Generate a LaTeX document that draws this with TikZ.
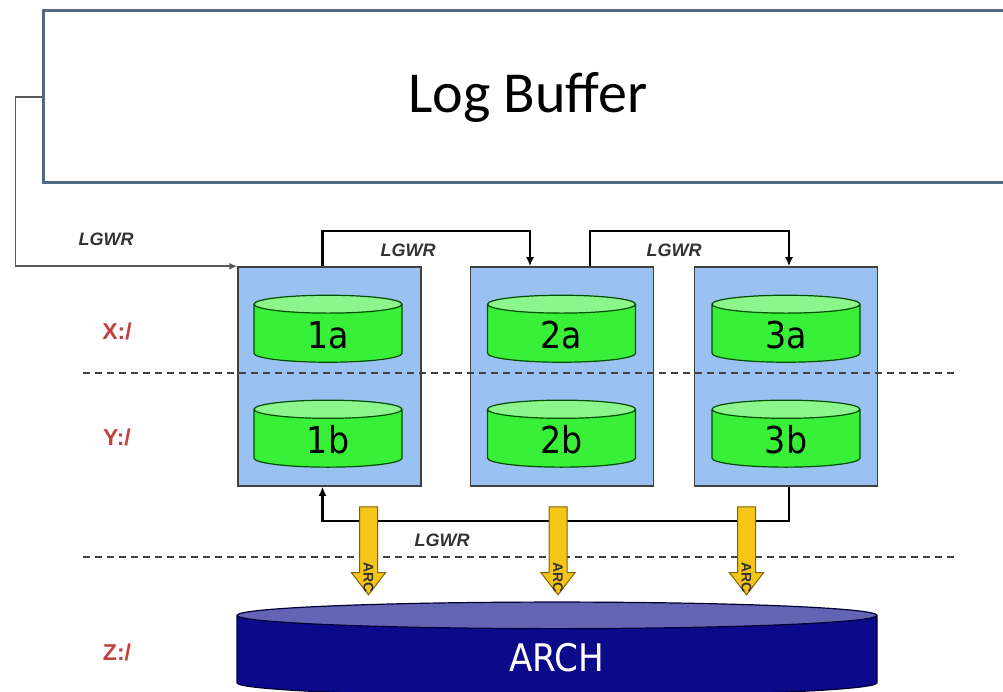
\documentclass[tikz,border=0pt]{standalone}
\usepackage{fontspec}
\setmainfont{Liberation Sans}
\newfontfamily\calibri{Carlito}
\newfontfamily\tahoma{DejaVu Sans Condensed}
\usetikzlibrary{shapes.geometric,shapes.arrows,arrows.meta,calc}

\definecolor{boxblue}{RGB}{153,194,242}
\definecolor{diskgreen}{RGB}{55,240,55}
\definecolor{disktop}{RGB}{140,245,140}
\definecolor{archblue}{RGB}{10,10,138}
\definecolor{archtop}{RGB}{100,100,180}
\definecolor{arcyellow}{RGB}{245,197,24}
\definecolor{drivered}{RGB}{192,64,64}
\definecolor{bufferline}{RGB}{80,105,135}

\begin{document}
\begin{tikzpicture}[x=1pt,y=-1pt,
		buffer/.style={draw=bufferline,line width=3pt,minimum width=970pt,minimum height=172pt,font=\calibri\fontsize{58}{60}\selectfont},
		group/.style={draw=black!75,fill=boxblue,line width=1.5pt,minimum width=183pt,minimum height=219pt},
		disk/.style={cylinder,shape border rotate=90,aspect=0.43,draw=black!70!green,line width=1.2pt,cylinder uses custom fill,cylinder body fill=diskgreen,cylinder end fill=disktop,minimum width=148pt,minimum height=67pt,inner sep=0pt,text height=30pt,text depth=0pt,font=\tahoma\fontsize{37}{37}\selectfont},
		arch/.style={cylinder,shape border rotate=90,aspect=0.28,draw=black!80!blue,line width=1.2pt,cylinder uses custom fill,cylinder body fill=archblue,cylinder end fill=archtop,minimum width=640pt,minimum height=94pt,inner sep=0pt,text height=30pt,text depth=0pt,text=white,font=\tahoma\fontsize{38}{38}\selectfont},
		arc/.style={single arrow,rotate=-90,draw=black!50!arcyellow,fill=arcyellow,line width=1pt,minimum height=88pt,minimum width=33pt,single arrow head extend=8pt,single arrow tip angle=75,inner xsep=0pt,inner ysep=8.5pt},
		arclabel/.style={rotate=-90,inner sep=0pt,font=\bfseries\fontsize{14}{14}\selectfont,text=black!80},
		lgwr/.style={draw=black,line width=2.5pt,-{Latex[length=9pt,width=8pt]}},
		feed/.style={draw=black!65,line width=1.5pt,-{Latex[length=8pt,width=7pt]}},
		lgwrlabel/.style={font=\bfseries\itshape\fontsize{18}{18}\selectfont,text=black!80},
		drive/.style={font=\bfseries\fontsize{23}{23}\selectfont,text=drivered},
		sep/.style={draw=black!75,line width=1.5pt,dash pattern=on 7pt off 5pt}]
	
	\fill[white] (0,0) rectangle (1003,692);
	\useasboundingbox (0,0) rectangle (1003,692);
	
	% Log buffer
	\node[buffer] (lb) at (528,97) {Log Buffer};
	
	% Groups with their members
	\node[group] (g1) at (329.5,376.5) {};
	\node[group] (g2) at (562,376.5) {};
	\node[group] (g3) at (786,376.5) {};
	\node[disk] (d1a) at (328,333.5) {1a};
	\node[disk] (d1b) at (328,438.5) {1b};
	\node[disk] (d2a) at (561.5,333.5) {2a};
	\node[disk] (d2b) at (561.5,438.5) {2b};
	\node[disk] (d3a) at (786,333.5) {3a};
	\node[disk] (d3b) at (786,438.5) {3b};
	
	% Drives
	\node[drive] (x) at (117,331) {X:/};
	\node[drive] (y) at (117,437) {Y:/};
	\node[drive] (z) at (117,652) {Z:/};
	\draw[sep] (83,373) -- (955,373);
	\draw[sep] (83,557) -- (955,557);
	
	% LGWR switches
	\draw[feed] (lb.west) -- ++(-26,0) |- (g1.north west);
	\node[lgwrlabel] (l0) at (106,239) {LGWR};
	\draw[lgwr] ($(g1.north)+(-7,0)$) -- ++(0,-35) -| ($(g2.north)+(-32,0)$);
	\node[lgwrlabel] (l1) at (408,250) {LGWR};
	\draw[lgwr] ($(g2.north)+(28,0)$) -- ++(0,-35) -| ($(g3.north)+(3,0)$);
	\node[lgwrlabel] (l2) at (674,250) {LGWR};
	\draw[lgwr] ($(g3.south)+(3,0)$) -- ++(0,34) -| ($(g1.south)+(-7,0)$);
	\node[lgwrlabel] (l3) at (442,540) {LGWR};
	
	% Archive
	\node[arch] (arch) at (557,656) {ARCH};
	\foreach \i/\x in {1/368.5,2/558,3/746.5}{
		\node[arc] (a\i) at (\x,545) {};
		\node[arclabel] at ($(a\i.tip)+(0,-18)$) {ARC};
	}
\end{tikzpicture}
\end{document}
